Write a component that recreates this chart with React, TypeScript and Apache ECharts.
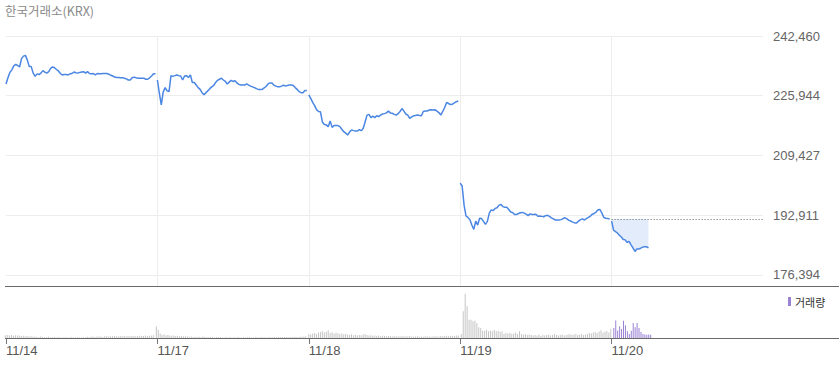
import React, { useEffect, useRef } from "react";
import * as echarts from "echarts";

// ---- data ----
const dayLabels = ["11/14", "11/17", "11/18", "11/19", "11/20"];
const SLOTS_PER_DAY = 78; // 5-minute slots per session
const priceTicks = [176394, 192911, 209427, 225944, 242460];
const prevClose = 191900;

const priceDay1 = [
  229200, 230900, 232400, 233100, 234200, 234600, 234300, 233900, 236200, 236900,
  237100, 235800, 234000, 234000, 232200, 231300, 232000, 231800, 232200, 232900,
  232500, 232200, 232600, 233500, 233900, 233700, 233200, 232800, 232100, 231700,
  231800, 231800, 231700, 232000, 232100, 232500, 232300, 232200, 232400, 232500,
  232600, 232200, 232600, 232100, 232000, 232100, 231700, 232100, 232000, 232000,
  232100, 232100, 232100, 231900, 231600, 231400, 231100, 231000, 231000, 230900,
  230900, 230800, 230600, 230300, 230300, 230900, 231100, 230900, 230800, 230800,
  230800, 230800, 230500, 230500, 230900, 231400, 232000, 232000,
];
const priceDay2 = [
  230300, 226700, 223400, 227000, 228200, 227300, 227100, 231500, 231300, 231500,
  231700, 231500, 231400, 230300, 231400, 231500, 231000, 231700, 229600, 229600,
  228900, 228200, 227700, 226800, 226200, 226800, 227300, 227900, 228400, 228800,
  229600, 230200, 230500, 230800, 230300, 229900, 229200, 229700, 230200, 229900,
  230100, 229500, 229100, 228900, 228900, 228900, 229200, 228900, 228600, 228400,
  228200, 227900, 227700, 227700, 227700, 228100, 228500, 229200, 229500, 229500,
  228900, 228600, 228400, 228400, 228600, 228900, 228600, 228800, 228900, 228900,
  228800, 228200, 227700, 227100, 226800, 226800, 227400, 227400,
];
const priceDay3 = [
  226200, 225200, 224100, 223200, 222100, 221600, 221500, 218700, 218000, 217900,
  217400, 219000, 217200, 217700, 217700, 217700, 217400, 216700, 216000, 215600,
  215100, 215900, 216500, 216300, 216200, 216200, 216600, 216300, 216900, 218700,
  220600, 220800, 219900, 220300, 219900, 220400, 220200, 220600, 220900, 221000,
  221200, 221700, 221200, 221100, 220800, 220600, 221000, 221600, 222400, 221700,
  220900, 220600, 219700, 220100, 220400, 220500, 220600, 220500, 220400, 221600,
  221700, 221700, 222000, 222100, 222000, 222100, 221700, 221300, 220600, 221600,
  222700, 224100, 223800, 223500, 223600, 224000, 224300, 224500,
];
const priceDay4 = [
  201800, 201000, 195700, 192700, 192300, 191700, 190200, 189000, 191300, 190200,
  192100, 192000, 191200, 190400, 191200, 193500, 194400, 194200, 194800, 195000,
  195700, 195900, 195300, 195100, 195100, 194500, 193800, 193700, 193100, 193100,
  193400, 193600, 193700, 193500, 193200, 192800, 193300, 193100, 193100, 193200,
  192600, 192700, 192600, 192500, 192800, 192900, 192600, 192200, 191900, 191600,
  191600, 191600, 191700, 192000, 192200, 191900, 191500, 191300, 191000, 190800,
  190800, 191300, 191700, 191900, 191600, 192000, 192300, 192600, 193200, 193400,
  193800, 194400, 194500, 193500, 192300, 192100, 192000, 191900,
];
const priceDay5 = [
  191300, 188800, 188400, 188000, 187400, 186900, 186200, 186100, 185400, 185700,
  184700, 183900, 182900, 183600, 183600, 183800, 184100, 184200, 184200, 183900,
];

const volDay1 = [
  32000, 28000, 30000, 25000, 30000, 22000, 27000, 24000, 26000, 20000,
  22000, 18000, 20000, 16000, 18000, 12000, 15000, 10000, 8000, 14000,
  9000, 7000, 8000, 12000, 6000, 7000, 9000, 6000, 11000, 6000,
  5000, 7000, 8000, 5000, 6000, 10000, 6000, 5000, 7000, 6000,
  5000, 8000, 6000, 12000, 7000, 13000, 15000, 9000, 14000, 16000,
  15000, 10000, 17000, 18000, 16000, 18000, 17000, 19000, 18000, 16000,
  20000, 18000, 19000, 17000, 20000, 18000, 21000, 19000, 18000, 20000,
  22000, 19000, 21000, 24000, 20000, 22000, 25000, 28000,
];
const volDay2 = [
  117000, 83000, 45000, 30000, 35000, 28000, 30000, 25000, 22000, 24000,
  20000, 22000, 18000, 20000, 15000, 17000, 14000, 12000, 15000, 10000,
  13000, 9000, 12000, 8000, 14000, 10000, 9000, 7000, 12000, 8000,
  6000, 9000, 7000, 11000, 6000, 5000, 8000, 6000, 10000, 5000,
  7000, 6000, 9000, 5000, 6000, 8000, 5000, 7000, 9000, 6000,
  5000, 8000, 7000, 6000, 10000, 7000, 8000, 6000, 9000, 7000,
  8000, 10000, 8000, 9000, 7000, 10000, 9000, 11000, 8000, 10000,
  9000, 12000, 10000, 11000, 12000, 13000, 15000, 18000,
];
const volDay3 = [
  40000, 35000, 45000, 50000, 40000, 55000, 60000, 67000, 55000, 62000,
  77000, 50000, 58000, 45000, 52000, 48000, 40000, 45000, 38000, 42000,
  35000, 30000, 38000, 28000, 32000, 25000, 30000, 27000, 35000, 40000,
  30000, 25000, 28000, 22000, 26000, 20000, 24000, 18000, 22000, 20000,
  17000, 21000, 19000, 16000, 20000, 15000, 18000, 16000, 20000, 14000,
  17000, 15000, 19000, 13000, 16000, 14000, 18000, 12000, 15000, 13000,
  17000, 14000, 16000, 12000, 15000, 18000, 14000, 16000, 19000, 17000,
  20000, 22000, 18000, 21000, 23000, 20000, 24000, 26000,
];
const volDay4 = [
  40000, 267000, 443000, 317000, 183000, 183000, 167000, 173000, 150000, 107000,
  100000, 73000, 73000, 83000, 67000, 73000, 67000, 83000, 67000, 73000,
  60000, 67000, 40000, 50000, 45000, 50000, 40000, 45000, 55000, 40000,
  67000, 40000, 35000, 40000, 30000, 35000, 30000, 25000, 30000, 25000,
  35000, 20000, 30000, 25000, 30000, 35000, 25000, 30000, 40000, 30000,
  25000, 30000, 35000, 25000, 30000, 35000, 40000, 30000, 35000, 40000,
  30000, 35000, 40000, 30000, 35000, 40000, 50000, 45000, 55000, 60000,
  50000, 65000, 77000, 55000, 65000, 70000, 55000, 90000,
];
const volDay5 = [
  100000, 175000, 75000, 117000, 90000, 173000, 127000, 67000, 40000, 73000,
  150000, 107000, 150000, 100000, 60000, 40000, 35000, 33000, 35000, 33000,
];

const priceDays = [priceDay1, priceDay2, priceDay3, priceDay4, priceDay5];
const volDays = [volDay1, volDay2, volDay3, volDay4, volDay5];

// ---- styles ----
const LINE_COLOR = "#4a86e2";
const FILL_COLOR = "#e3ecfb";
const GRID_COLOR = "#ededed";
const VOL_GRAY = "#c6c6c6";
const VOL_PURPLE = "#9a82d4";
const NUM_FONT = "'Liberation Sans', Arial, sans-serif";
const KR_FONT = "'Noto Sans CJK KR', 'Noto Sans', sans-serif";

const fmt = (v: number) =>
  String(Math.round(v)).replace(/\B(?=(\d{3})+(?!\d))/g, ",");

export default function App() {
  const ref = useRef<HTMLDivElement>(null);

  useEffect(() => {
    if (!ref.current) return;
    const chart = echarts.init(ref.current, undefined, { renderer: "svg" });
    const total = SLOTS_PER_DAY * dayLabels.length;
    const tickVals = dayLabels.map((_, i) => i * SLOTS_PER_DAY);

    const series: any[] = [];
    priceDays.forEach((arr, d) => {
      const s: any = {
        type: "line",
        xAxisIndex: 0,
        yAxisIndex: 0,
        showSymbol: false,
        symbol: "none",
        silent: true,
        data: arr.map((v, i) => [d * SLOTS_PER_DAY + i, v]),
        lineStyle: { color: LINE_COLOR, width: 1.5 },
        itemStyle: { color: LINE_COLOR },
        z: 3,
      };
      if (d === 0) {
        s.markLine = {
          silent: true,
          symbol: ["none", "none"],
          lineStyle: { color: GRID_COLOR, type: "solid", width: 1 },
          label: {
            show: true,
            position: "end",
            distance: 10,
            color: "#666",
            fontSize: 13,
            fontFamily: NUM_FONT,
            formatter: (p: any) => fmt(p.value),
          },
          emphasis: { disabled: true },
          data: priceTicks.map((v) => ({ yAxis: v })),
          z: 1,
        };
      }
      if (d === priceDays.length - 1) {
        s.areaStyle = { origin: prevClose, color: FILL_COLOR, opacity: 1 };
        s.markLine = {
          silent: true,
          symbol: ["none", "none"],
          lineStyle: { color: "#666", type: [1, 2], width: 1 },
          label: { show: false },
          emphasis: { disabled: true },
          data: [
            [
              { coord: [d * SLOTS_PER_DAY, prevClose] },
              { coord: [total, prevClose] },
            ],
          ],
        };
      }
      series.push(s);
    });

    volDays.forEach((arr, d) => {
      const last = d === volDays.length - 1;
      series.push({
        type: "bar",
        name: last ? "거래량" : "vol" + d,
        xAxisIndex: 1,
        yAxisIndex: 1,
        barWidth: 1,
        silent: true,
        data: arr.map((v, i) => [d * SLOTS_PER_DAY + i, v]),
        itemStyle: { color: last ? VOL_PURPLE : VOL_GRAY },
      });
    });

    chart.setOption({
      animation: false,
      title: {
        text: "한국거래소(KRX)",
        left: 5,
        top: 4,
        padding: 0,
        textStyle: {
          fontSize: 12.5,
          fontWeight: "normal",
          color: "#8a8a8a",
          fontFamily: KR_FONT,
        },
      },
      legend: {
        data: ["거래량"],
        left: 788,
        top: 296,
        padding: 0,
        icon: "rect",
        itemWidth: 3,
        itemHeight: 9,
        selectedMode: false,
        textStyle: { fontSize: 11, color: "#333", fontFamily: KR_FONT, padding: [0, 0, 0, -1] },
      },
      grid: [
        { left: 6, right: 76, top: 36, height: 250 },
        { left: 6, right: 76, top: 287, height: 51 },
      ],
      xAxis: [
        {
          type: "value",
          gridIndex: 0,
          min: 0,
          max: total,
          interval: SLOTS_PER_DAY,
          axisLine: { show: false },
          axisTick: { show: false },
          axisLabel: { show: false },
          splitLine: {
            show: true,
            showMinLine: false,
            showMaxLine: false,
            lineStyle: { color: GRID_COLOR, width: 1 },
          },
        },
        {
          type: "value",
          gridIndex: 1,
          min: 0,
          max: total,
          interval: SLOTS_PER_DAY,
          axisLine: { show: false },
          axisTick: {
            show: true,
            length: 6,
            lineStyle: { color: "#777" },
            customValues: tickVals,
          },
          axisLabel: {
            show: true,
            customValues: tickVals,
            align: "left",
            margin: 6,
            color: "#555",
            fontSize: 13,
            fontFamily: NUM_FONT,
            formatter: (v: number) => dayLabels[Math.round(v / SLOTS_PER_DAY)] ?? "",
          },
          splitLine: { show: false },
        },
      ],
      yAxis: [
        {
          type: "value",
          gridIndex: 0,
          min: 173353,
          max: 242460,
          show: false,
          splitLine: { show: false },
        },
        {
          type: "value",
          gridIndex: 1,
          min: 0,
          max: 510000,
          show: false,
          splitLine: { show: false },
        },
      ],
      graphic: [
        {
          type: "line",
          shape: { x1: 5, y1: 286.5, x2: 839, y2: 286.5 },
          style: { stroke: "#6a6a6a", lineWidth: 1 },
          silent: true,
          z: 10,
        },
        {
          type: "line",
          shape: { x1: 5, y1: 338.5, x2: 839, y2: 338.5 },
          style: { stroke: "#6a6a6a", lineWidth: 1 },
          silent: true,
          z: 10,
        },
      ],
      series,
    });

    return () => chart.dispose();
  }, []);

  return (
    <div
      ref={ref}
      style={{ position: "fixed", left: 0, top: 0, width: 839, height: 365, background: "#fff" }}
    />
  );
}
